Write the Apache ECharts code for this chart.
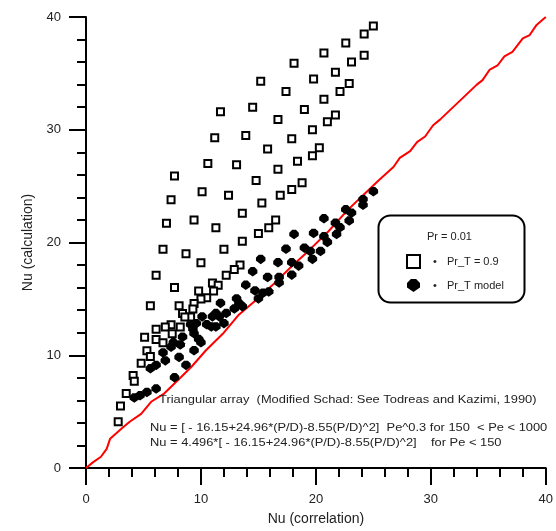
<!DOCTYPE html>
<html>
<head>
<meta charset="utf-8">
<script src="https://cdn.jsdelivr.net/npm/echarts@6/dist/echarts.min.js"></script>
<style>
  html, body { margin: 0; padding: 0; background: #fff; }
  #chart { width: 556px; height: 531px; }
</style>
</head>
<body>
<div id="chart"></div>
<script>
// Nu from the constant turbulent Prandtl number run (Pr_T = 0.9): [Nu correlation, Nu calculation]
const prT09Points = [
  [25.0, 39.2], [24.2, 38.5], [22.6, 37.7], [20.7, 36.8], [24.2, 36.6], [23.1, 36.0],
  [18.1, 35.9], [21.7, 35.1], [19.8, 34.5], [22.9, 34.1], [15.2, 34.3], [22.1, 33.4],
  [17.4, 33.4], [20.7, 32.7], [19.0, 31.8], [14.5, 32.0], [11.7, 31.6], [21.7, 31.3],
  [21.0, 30.7], [16.7, 30.9], [19.7, 30.0], [11.2, 29.3], [13.9, 29.5], [17.9, 29.2],
  [15.8, 28.3], [20.3, 28.4], [19.7, 27.7], [10.6, 27.0], [13.1, 26.9], [18.4, 27.2],
  [16.7, 26.5], [7.7, 25.9], [14.8, 25.5], [18.8, 25.3], [17.9, 24.7], [10.1, 24.5],
  [12.4, 24.2], [16.9, 24.2], [7.4, 23.8], [15.3, 23.5], [13.6, 22.6], [9.4, 22.0],
  [16.5, 22.0], [7.0, 21.7], [11.3, 21.3], [15.9, 21.3], [15.0, 20.8], [13.6, 20.1],
  [6.7, 19.4], [8.7, 19.0], [12.0, 19.4], [10.0, 18.2], [13.4, 18.0], [12.9, 17.6],
  [12.2, 17.1], [6.1, 17.1], [7.7, 16.0], [11.0, 16.4], [11.5, 16.2], [9.8, 15.7],
  [11.1, 15.7], [10.5, 15.1], [10.0, 15.0], [9.4, 14.6], [5.6, 14.4], [8.1, 14.4],
  [9.3, 14.1], [8.4, 13.7], [9.1, 13.4], [8.6, 13.4], [7.4, 12.7], [6.9, 12.5],
  [8.2, 12.5], [6.1, 12.3], [7.5, 11.9], [5.1, 11.6], [6.1, 11.4], [6.7, 11.1],
  [5.3, 10.4], [5.6, 9.9], [4.8, 9.3], [4.1, 8.2], [4.2, 7.7], [3.5, 6.6],
  [3.0, 5.5], [2.8, 4.1]
];

// Nu from the Pr_T model run: [Nu correlation, Nu calculation]
const prTModelPoints = [
  [25.0, 24.5], [24.1, 23.8], [24.1, 23.3], [22.6, 22.9], [23.1, 22.6], [22.9, 21.9],
  [20.7, 22.1], [21.7, 21.7], [22.1, 21.3], [21.8, 20.7], [19.8, 20.8], [18.1, 20.7],
  [20.7, 20.5], [21.0, 20.0], [17.4, 19.4], [19.0, 19.5], [19.5, 19.2], [20.4, 19.2],
  [19.7, 18.5], [15.2, 18.5], [16.7, 18.2], [17.9, 18.2], [18.5, 17.9], [17.9, 17.1],
  [15.8, 16.9], [16.8, 16.9], [16.8, 16.4], [15.9, 15.6], [15.4, 15.5], [14.5, 17.4],
  [13.9, 16.2], [14.7, 15.7], [15.0, 15.0], [13.1, 15.0], [13.3, 14.6], [13.6, 14.3],
  [12.9, 14.1], [11.7, 14.6], [12.2, 13.7], [11.3, 13.7], [11.0, 13.4], [11.6, 13.4],
  [12.0, 12.8], [10.1, 13.4], [10.5, 12.7], [10.9, 12.5], [11.3, 12.5], [9.6, 12.8],
  [9.1, 12.7], [9.3, 12.3], [8.4, 11.6], [9.4, 11.9], [9.8, 11.4], [10.0, 11.1],
  [7.6, 11.1], [8.2, 10.9], [7.4, 10.7], [9.4, 10.4], [6.7, 10.2], [8.1, 9.8],
  [6.9, 9.5], [6.1, 9.1], [5.6, 8.8], [8.7, 9.1], [7.7, 8.0], [6.1, 7.0],
  [5.3, 6.7], [4.7, 6.4], [4.2, 6.2]
];

// Correlation reference curve (red)
const correlationLine = [
  [0, 0], [0.6, 0.5], [1.3, 1.0], [1.8, 1.7], [2.1, 2.6], [3.1, 3.5], [3.8, 4.1],
  [4.8, 4.8], [5.7, 5.9], [6.8, 6.6], [8.3, 8.1], [9.2, 9.0], [10.4, 10.4],
  [11.9, 11.9], [13.3, 13.6], [14.8, 14.9], [16.2, 16.2], [17.9, 17.9], [19.4, 19.3],
  [21.1, 21.0], [22.6, 22.7], [23.7, 23.8], [25.45, 25.5], [26.75, 26.7], [27.3, 27.5],
  [28.2, 28.1], [28.8, 28.9], [29.5, 29.4], [30.2, 30.4], [30.8, 30.9], [34.0, 34.0],
  [34.5, 34.4], [35.1, 35.3], [35.8, 35.7], [36.4, 36.5], [37.1, 36.9], [38.0, 38.1],
  [38.6, 38.4], [39.2, 39.3], [40, 40]
];

const seriesNames = ['Pr_T = 0.9', 'Pr_T model'];
const legendTitle = 'Pr = 0.01';
const noteLines = [
  'Triangular array  (Modified Schad: See Todreas and Kazimi, 1990)',
  'Nu = [ - 16.15+24.96*(P/D)-8.55(P/D)^2]  Pe^0.3 for 150  < Pe < 1000',
  'Nu = 4.496*[ - 16.15+24.96*(P/D)-8.55(P/D)^2]    for Pe < 150'
];

const FONT = 'Liberation Sans, Arial, sans-serif';
const blobPath = 'path://M3,0 L7,0 L10,3 L10,6.5 L5,10 L0,6.5 L0,3 Z';
const NOTE_STRETCH = 1.12;

const axisCommon = {
  type: 'value',
  min: 0,
  max: 40,
  interval: 10,
  splitLine: { show: false },
  axisLine: { show: true, lineStyle: { color: '#000', width: 2 } },
  axisTick: { show: true, inside: false, length: 17, lineStyle: { color: '#000', width: 2 } },
  minorTick: { show: true, splitNumber: 5, length: 9, lineStyle: { color: '#000', width: 2 } },
  minorSplitLine: { show: false },
  axisLabel: { color: '#222', fontSize: 13, fontFamily: FONT, margin: 25 },
  nameLocation: 'middle',
  nameTextStyle: { color: '#222', fontSize: 14, fontFamily: FONT }
};

function noteText(text, x, y) {
  return {
    type: 'text', x: x, y: y, z: 2,
    scaleX: NOTE_STRETCH,
    style: { text: text, fill: '#222', font: '11.5px ' + FONT }
  };
}

const chart = echarts.init(document.getElementById('chart'), null, { renderer: 'canvas' });

chart.setOption({
  animation: false,
  backgroundColor: '#fff',
  grid: { left: 86, right: 8, top: 17, bottom: 63, containLabel: false },
  xAxis: Object.assign({}, axisCommon, { name: 'Nu (correlation)', nameGap: 44 }),
  yAxis: Object.assign({}, axisCommon, { name: 'Nu (calculation)', nameGap: 47 }),
  legend: {
    orient: 'vertical',
    left: 406,
    top: 254,
    itemWidth: 13,
    itemHeight: 13,
    itemGap: 10,
    padding: 0,
    selectedMode: false,
    formatter: name => '{b|•}{t|' + name + '}',
    data: [
      { name: seriesNames[0], icon: 'rect', itemStyle: { color: '#fff', borderColor: '#000', borderWidth: 2 } },
      { name: seriesNames[1], icon: blobPath, itemStyle: { color: '#000', borderWidth: 0 } }
    ],
    textStyle: {
      color: '#222', fontSize: 11, fontFamily: FONT,
      rich: {
        b: { width: 14, align: 'left', padding: [0, 0, 0, 8], fontSize: 11, fontFamily: FONT, color: '#222' },
        t: { fontSize: 11, fontFamily: FONT, color: '#222' }
      }
    }
  },
  graphic: [
    {
      type: 'rect', left: 376, top: 213, z: 1,
      shape: { width: 146, height: 87, r: 12 },
      style: { fill: 'none', stroke: '#000', lineWidth: 2 }
    },
    {
      type: 'text', left: 427, top: 231, z: 2,
      style: { text: legendTitle, fill: '#222', font: '11px ' + FONT }
    },
    noteText(noteLines[0], 159, 394),
    noteText(noteLines[1], 150, 422),
    noteText(noteLines[2], 150, 437)
  ],
  series: [
    {
      name: 'correlation',
      type: 'line',
      data: correlationLine,
      showSymbol: false,
      symbol: 'none',
      smooth: false,
      lineStyle: { color: '#ff0000', width: 2 },
      z: 1,
      silent: true
    },
    {
      name: seriesNames[0],
      type: 'scatter',
      data: prT09Points,
      symbol: 'rect',
      symbolSize: 7,
      itemStyle: { color: '#fff', borderColor: '#000', borderWidth: 2, opacity: 1 },
      z: 3
    },
    {
      name: seriesNames[1],
      type: 'scatter',
      data: prTModelPoints,
      symbol: blobPath,
      symbolSize: 9.5,
      itemStyle: { color: '#000', opacity: 1 },
      z: 4
    }
  ]
});
</script>
</body>
</html>
